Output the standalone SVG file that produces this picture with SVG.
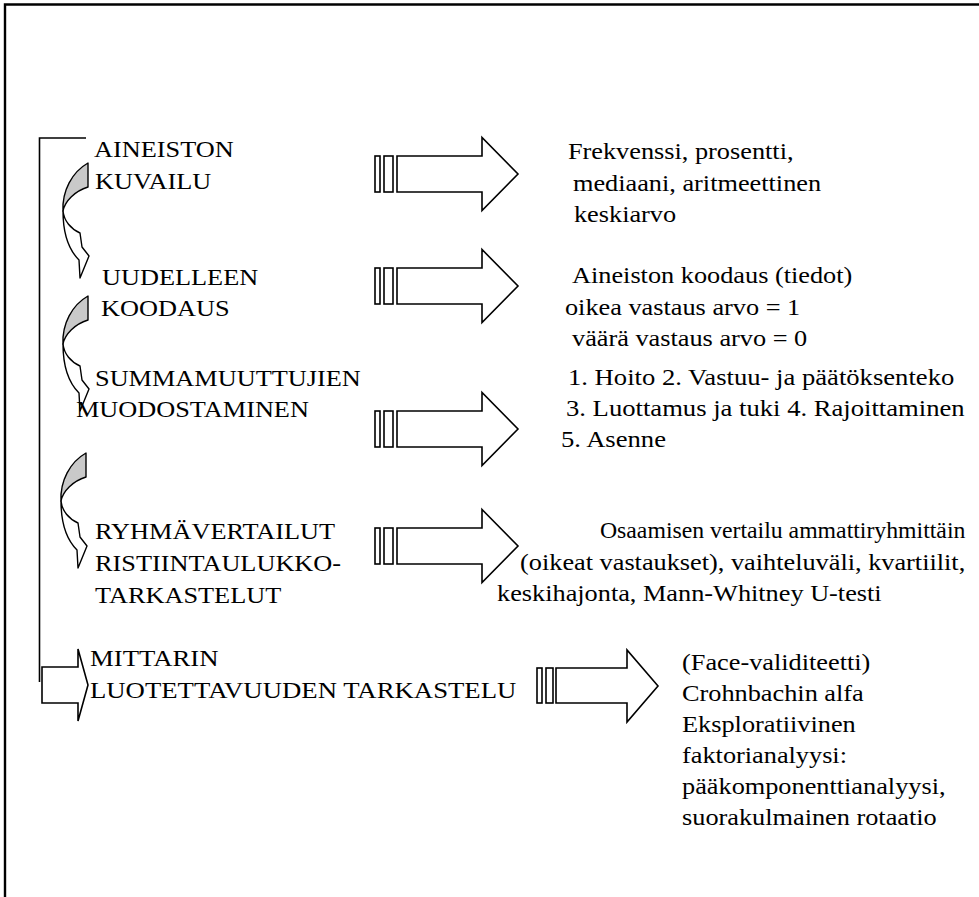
<svg xmlns="http://www.w3.org/2000/svg" xmlns:xlink="http://www.w3.org/1999/xlink" width="979" height="897" viewBox="0 0 979 897">
<style>
.t{font-size:24px;fill:#000}
.ln{fill:none;stroke:#000;stroke-width:1.6}
.border{fill:none;stroke:#000;stroke-width:2.4}
.blk{fill:#fff;stroke:#000;stroke-width:1.6}
.cw{fill:#fff;stroke:#000;stroke-width:1.4;stroke-linejoin:round}
.cg{fill:#c9c9c9;stroke:#000;stroke-width:1.4;stroke-linejoin:round}
</style>
<defs>
<g id="bigArrow">
<rect x="375" y="-18" width="5" height="36"/>
<rect x="384" y="-18" width="9" height="36"/>
<path d="M397,-18 H482 V-36.5 L518,0 L482,36.5 V18 H397 Z"/>
</g>
<g id="curve">
<path class="cg" d="M88,0 L88,24 C75,28 65,38 63,48 C62,28 72,9 88,0 Z"/>
<path class="cw" d="M63,48 C64,58 71,66 80,70 L82,84 L89,93 L80,115 L79,97 C70,88 63,72 63,48 Z"/>
</g>
</defs>

<g id="frame">
<polyline class="border" points="5,897 5,4.5 979,4.5"/>
</g>

<g id="connectors">
<polyline class="ln" points="86,138 39.5,138 39.5,682"/>
<use xlink:href="#curve" href="#curve" transform="translate(0,163)"/>
<use xlink:href="#curve" href="#curve" transform="translate(0,296)"/>
<use xlink:href="#curve" href="#curve" transform="translate(-2,453)"/>
<path class="blk" d="M42,703 V667 H78 V649 L88,685 L78,721 V703 Z"/>
<use xlink:href="#bigArrow" href="#bigArrow" class="blk" transform="translate(0,174)"/>
<use xlink:href="#bigArrow" href="#bigArrow" class="blk" transform="translate(0,286)"/>
<use xlink:href="#bigArrow" href="#bigArrow" class="blk" transform="translate(0,429)"/>
<use xlink:href="#bigArrow" href="#bigArrow" class="blk" transform="translate(0,546)"/>
<g class="blk">
<rect x="537" y="668" width="5" height="35"/>
<rect x="546" y="668" width="7" height="35"/>
<path d="M556,668 H627 V650 L658,686 L627,722 V703 H556 Z"/>
</g>
</g>

<g font-family="Liberation Serif, Times New Roman, serif">
<g id="node1">
<text class="t" transform="scale(1.096,1)" x="85.8" y="157">AINEISTON</text>
<text class="t" transform="scale(1.096,1)" x="86.7" y="189">KUVAILU</text>
</g>
<g id="out1">
<text class="t" transform="scale(1.096,1)" x="518.2" y="159">Frekvenssi, prosentti,</text>
<text class="t" transform="scale(1.096,1)" x="522.8" y="191">mediaani, aritmeettinen</text>
<text class="t" transform="scale(1.096,1)" x="523.7" y="222">keskiarvo</text>
</g>

<g id="node2">
<text class="t" transform="scale(1.096,1)" x="93.1" y="285">UUDELLEEN</text>
<text class="t" transform="scale(1.096,1)" x="92.2" y="316">KOODAUS</text>
</g>
<g id="out2">
<text class="t" transform="scale(1.096,1)" x="521.9" y="283">Aineiston koodaus (tiedot)</text>
<text class="t" transform="scale(1.096,1)" x="515.5" y="315">oikea vastaus arvo = 1</text>
<text class="t" transform="scale(1.096,1)" x="521.9" y="346">väärä vastaus arvo = 0</text>
</g>

<g id="node3">
<text class="t" transform="scale(1.096,1)" x="86.7" y="386">SUMMAMUUTTUJIEN</text>
<text class="t" transform="scale(1.096,1)" x="69.3" y="417">MUODOSTAMINEN</text>
</g>
<g id="out3">
<text class="t" transform="scale(1.11,1)" x="511.7" y="385">1. Hoito 2. Vastuu- ja päätöksenteko</text>
<text class="t" transform="scale(1.11,1)" x="509.9" y="416">3. Luottamus ja tuki 4. Rajoittaminen</text>
<text class="t" transform="scale(1.11,1)" x="505.4" y="447">5. Asenne</text>
</g>

<g id="node4">
<text class="t" transform="scale(1.096,1)" x="86.7" y="539">RYHMÄVERTAILUT</text>
<text class="t" transform="scale(1.096,1)" x="86.7" y="571">RISTIINTAULUKKO-</text>
<text class="t" transform="scale(1.096,1)" x="86.7" y="603">TARKASTELUT</text>
</g>
<g id="out4">
<text class="t" transform="scale(0.99,1)" x="606" y="538">Osaamisen vertailu ammattiryhmittäin</text>
<text class="t" transform="scale(1.096,1)" x="474.5" y="570">(oikeat vastaukset), vaihteluväli, kvartiilit,</text>
<text class="t" transform="scale(1.096,1)" x="453.5" y="601">keskihajonta, Mann-Whitney U-testi</text>
</g>

<g id="node5">
<text class="t" transform="scale(1.115,1)" x="80.7" y="666">MITTARIN</text>
<text class="t" transform="scale(1.115,1)" x="80.7" y="698">LUOTETTAVUUDEN TARKASTELU</text>
</g>
<g id="out5">
<text class="t" transform="scale(1.096,1)" x="622.3" y="670">(Face-validiteetti)</text>
<text class="t" transform="scale(1.096,1)" x="622.3" y="701">Crohnbachin alfa</text>
<text class="t" transform="scale(1.096,1)" x="622.3" y="732">Eksploratiivinen</text>
<text class="t" transform="scale(1.096,1)" x="622.3" y="763">faktorianalyysi:</text>
<text class="t" transform="scale(1.096,1)" x="622.3" y="794">pääkomponenttianalyysi,</text>
<text class="t" transform="scale(1.096,1)" x="622.3" y="825">suorakulmainen rotaatio</text>
</g>
</g>
</svg>
